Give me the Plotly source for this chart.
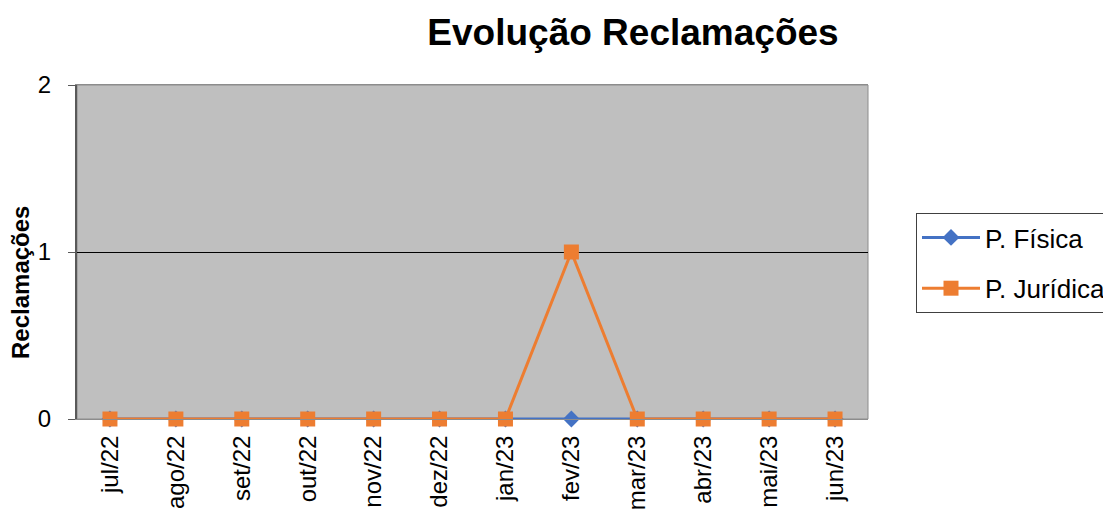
import plotly.graph_objects as go

categories = ["jul/22", "ago/22", "set/22", "out/22", "nov/22", "dez/22",
              "jan/23", "fev/23", "mar/23", "abr/23", "mai/23", "jun/23"]
pf_values = [0, 0, 0, 0, 0, 0, 0, 0, 0, 0, 0, 0]
pj_values = [0, 0, 0, 0, 0, 0, 0, 1, 0, 0, 0, 0]
y_ticks = [0, 1, 2]

W, H = 1103, 507  # page adds 8px body margin
L, T = 69, 77
PW, PH = 791, 334

fig = go.Figure()
fig.add_trace(go.Scatter(
    x=categories, y=pf_values, name="P. Física", mode="lines+markers",
    line=dict(color="#4472C4", width=3),
    marker=dict(symbol="diamond", size=13, color="#4472C4"),
    cliponaxis=False, legendgroup="a",
))
fig.add_trace(go.Scatter(
    x=categories, y=pj_values, name="P. Jurídica", mode="lines+markers",
    line=dict(color="#ED7D31", width=3),
    marker=dict(symbol="square", size=15, color="#ED7D31"),
    cliponaxis=False, legendgroup="b",
))

fig.update_layout(
    width=W, height=H,
    margin=dict(l=L, r=W - L - PW, t=T, b=H - T - PH, autoexpand=False),
    paper_bgcolor="white",
    plot_bgcolor="#BFBFBF",
    font=dict(family="Liberation Sans, Arial", size=24, color="black"),
    title=dict(text="<b>Evolução Reclamações</b>", x=(633 - 8) / W, xanchor="center",
               y=1 - (32 - 8) / H, yanchor="middle", font=dict(size=37)),
    showlegend=True,
    legend=dict(x=(916 - 77) / PW, xanchor="left", y=(419 - 213) / PH, yanchor="top",
                bordercolor="#404040", borderwidth=1, bgcolor="white",
                font=dict(size=26), tracegroupgap=14, itemwidth=58),
    xaxis=dict(
        type="category", range=[-0.5, 11.5], tickangle=-90,
        showgrid=False, showline=True, linecolor="#8C8C8C", linewidth=1,
        mirror=True, ticks="outside", ticklen=6, tickcolor="rgba(0,0,0,0)",
        tickfont=dict(size=24), automargin=False, zeroline=False,
    ),
    yaxis=dict(
        range=[0, 2], tickvals=y_ticks, showgrid=True, gridcolor="black",
        gridwidth=1, showline=True, linecolor="#595959", linewidth=2,
        mirror=False, ticks="outside", ticklen=7, tickcolor="#595959",
        tickfont=dict(size=24), automargin=False, zeroline=False,
        ticklabelstandoff=12,
    ),
)
fig.add_shape(type="rect", xref="paper", yref="paper", x0=0, x1=1, y0=0, y1=1,
              line=dict(color="#8C8C8C", width=1), layer="below")
fig.add_annotation(text="<b>Reclamações</b>", xref="paper", yref="paper",
                   x=(20 - 77) / PW, y=(419 - 283) / PH, textangle=-90, showarrow=False,
                   font=dict(size=24), xanchor="center", yanchor="middle")

fig.write_html("out.html")
